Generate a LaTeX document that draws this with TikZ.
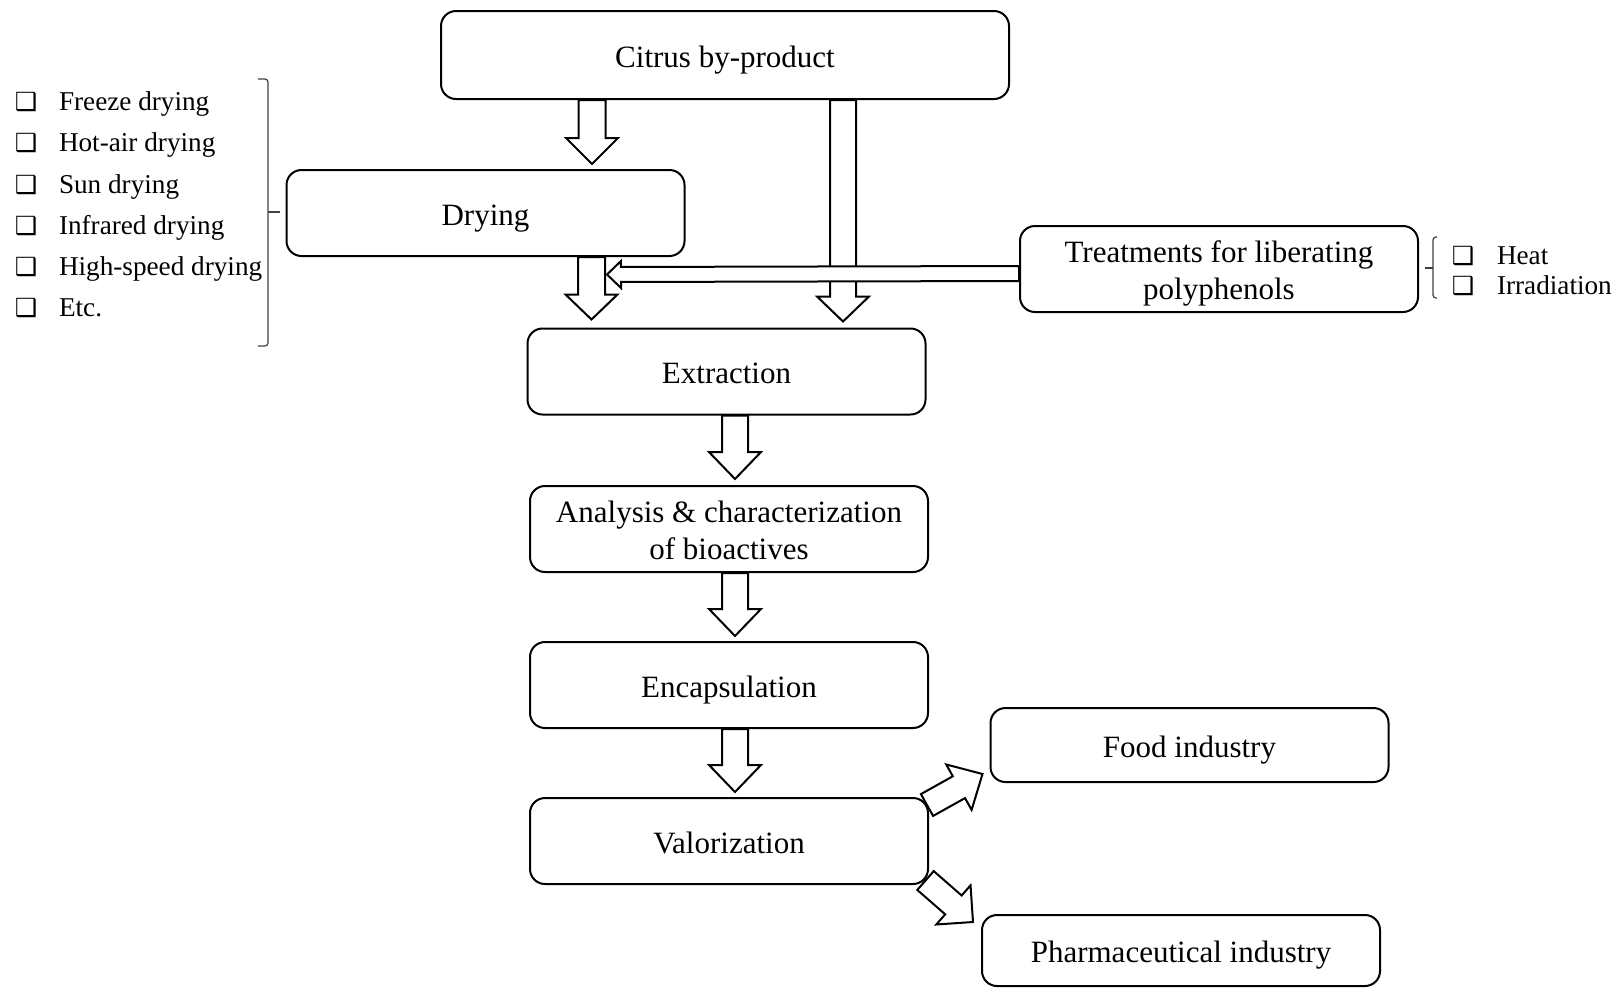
\documentclass[tikz,border=0pt]{standalone}
\usepackage{fontspec}
\setmainfont{Liberation Serif}
\newfontfamily\boxsym{DejaVu Sans}
\usetikzlibrary{positioning}
\usetikzlibrary{calc}

% hollow block arrow: tail, tip, half shaft, half head, head length
\newcommand{\fatarrow}[5]{%
  \coordinate (fa base) at ($(#2)!#5!(#1)$);
  \filldraw[fill=white] ($(#1)!#3!90:(#2)$) -- ($(fa base)!#3!90:(#2)$) -- ($(fa base)!#4!90:(#2)$) -- (#2)
  -- ($(fa base)!#4!-90:(#2)$) -- ($(fa base)!#3!-90:(#2)$) -- ($(#1)!#3!-90:(#2)$) -- cycle;
}

\begin{document}
\begin{tikzpicture}[x=0.5pt, y=-0.5pt, line width=1pt,
    stage/.style={draw, rounded corners=7.5pt, minimum width=199pt, minimum height=43pt, inner sep=0pt, align=center,
        text height=12.5pt, text depth=0.5pt, font=\fontsize{15.5}{18.5}\selectfont},
    twolines/.style={text height=30.5pt},
    item/.style={anchor=base west, inner sep=0pt, font=\fontsize{13.6}{16}\selectfont},
    tick/.style={anchor=base, inner sep=0pt, font=\boxsym\bfseries\fontsize{12.5}{14}\selectfont},
    bracket/.style={line width=0.6pt, black!75, rounded corners=1.5pt}]
        \useasboundingbox (0,0) rectangle (1617,987);

        \node[stage, minimum width=284pt, minimum height=44pt] (citrus) at (725,55) {Citrus by-product};
        \node[stage] (drying) at (485.5,213) {Drying};
        \node[stage, twolines] (treat) at (1219,269) {Treatments for liberating\\polyphenols};
        \node[stage] (extract) at (726.5,371.5) {Extraction};
        \node[stage, twolines] (analysis) at (729,529) {Analysis \& characterization\\of bioactives};
        \node[stage, below=34pt of analysis] (encaps) {Encapsulation};
        \node[stage, below=34pt of encaps] (valor) {Valorization};
        \node[stage, minimum height=37pt] (food) at (1189.5,745) {Food industry};
        \node[stage, minimum height=35.5pt] (pharma) at (1181,950.5) {Pharmaceutical industry};

        % drying methods
        \foreach \txt [count=\i] in {Freeze drying, Hot-air drying, Sun drying, Infrared drying, High-speed drying, Etc.} {
            \node[tick] (dbox\i) at (26,69.5+41.2*\i) {❑};
            \node[item] (dtxt\i) at (58,69.5+41.2*\i) {\txt};
        }
        \draw[bracket] (258,79) -| (268,346) -- (258,346);
        \draw[bracket] (268,212) -- (280,212);

        % treatments
        \node[tick] (hbox) at (1463,264) {❑};
        \node[item] (heat) at (1496,264) {Heat};
        \node[tick] (ibox) at (1463,294) {❑};
        \node[item] (irr) at (1496,294) {Irradiation};
        \draw[bracket] (1437,237) -| (1433,298) -- (1437,298);
        \draw[bracket] (1433,268) -- (1425,268);

        \coordinate (c1) at ([xshift=-66.5pt]citrus.south);
        \coordinate (d1) at ([xshift=53.25pt,yshift=2.5pt]drying.north);
        \coordinate (c2) at ([xshift=59pt]citrus.south);
        \coordinate (e2) at ([xshift=58.25pt,yshift=3pt]extract.north);
        \coordinate (t1) at ([yshift=-2.25pt]treat.west);
        \coordinate (t2) at ([xshift=60.75pt,yshift=-8.75pt]drying.south);
        \coordinate (d2) at ([xshift=53pt]drying.south);
        \coordinate (e1) at ([xshift=-67.5pt,yshift=4pt]extract.north);
        \coordinate (x1) at ([xshift=4.25pt]extract.south);
        \coordinate (a1) at ([xshift=3pt,yshift=3pt]analysis.north);
        \coordinate (a2) at ([xshift=3pt]analysis.south);
        \coordinate (n1) at ([xshift=3pt,yshift=2.5pt]encaps.north);
        \coordinate (n2) at ([xshift=3pt]encaps.south);
        \coordinate (v1) at ([xshift=3pt,yshift=2.5pt]valor.north);
        \coordinate (v2) at ([xshift=-1pt,yshift=-4pt]valor.north east);
        \coordinate (f1) at ([xshift=-3.5pt,yshift=4.5pt]food.south west);
        \coordinate (v3) at ([xshift=-1.75pt,yshift=2.25pt]valor.south east);
        \coordinate (p1) at ([xshift=-4pt,yshift=-4pt]pharma.north west);

        \fatarrow{c2}{e2}{6.5pt}{13pt}{12.5pt}
        \fatarrow{t1}{t2}{3.75pt}{6.75pt}{7pt}
        \fatarrow{c1}{d1}{6.75pt}{13pt}{13pt}
        \fatarrow{d2}{e1}{6.75pt}{13pt}{12.5pt}
        \fatarrow{x1}{a1}{6.5pt}{13pt}{13.5pt}
        \fatarrow{a2}{n1}{6.5pt}{13pt}{13.5pt}
        \fatarrow{n2}{v1}{6.5pt}{13pt}{13.5pt}
        \fatarrow{v2}{f1}{6.25pt}{13pt}{13.5pt}
        \fatarrow{v3}{p1}{6.25pt}{13pt}{13pt}
    \end{tikzpicture}
\end{document}
